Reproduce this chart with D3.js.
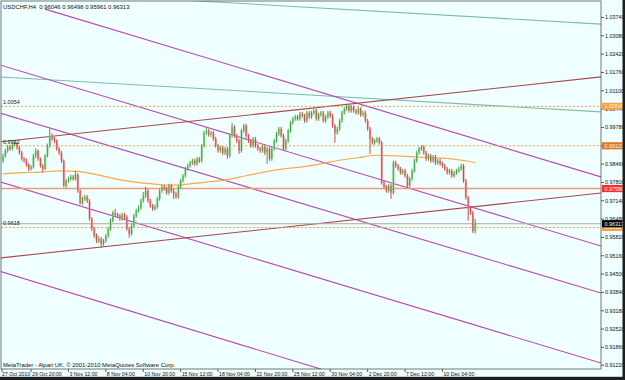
<!DOCTYPE html>
<html><head><meta charset="utf-8">
<script src="https://cdn.jsdelivr.net/npm/d3@7"></script>
<style>body{margin:0;background:#F0FFFF}svg{display:block}</style>
</head><body>
<svg id="c" width="625" height="380"></svg>
<script>
// ---------- DATA ----------
const symbolTitle = "USDCHF,H4  0.96046 0.96498 0.95961 0.96313";
const copyright = "MetaTrader - Alpari UK, \u00A9 2001-2010 MetaQuotes Software Corp.";

const closes = [0.9876,0.9894,0.9908,0.9901,0.9916,0.9923,0.9905,0.9887,0.9865,0.9858,
0.9844,0.9829,0.9836,0.9876,0.9894,0.9865,0.9840,0.9829,0.9876,0.9912,
0.9948,0.9937,0.9930,0.9901,0.9887,0.9858,0.9768,0.9786,0.9793,0.9800,
0.9793,0.9808,0.9750,0.9707,0.9721,0.9728,0.9714,0.9649,0.9613,0.9588,
0.9570,0.9577,0.9559,0.9570,0.9588,0.9613,0.9642,0.9671,0.9664,0.9660,
0.9649,0.9664,0.9656,0.9613,0.9595,0.9624,0.9660,0.9678,0.9689,0.9714,
0.9732,0.9750,0.9714,0.9696,0.9685,0.9692,0.9721,0.9750,0.9764,0.9757,
0.9743,0.9768,0.9750,0.9739,0.9728,0.9764,0.9786,0.9804,0.9829,0.9840,
0.9851,0.9858,0.9847,0.9865,0.9858,0.9912,0.9959,0.9966,0.9952,0.9959,
0.9937,0.9912,0.9894,0.9905,0.9887,0.9901,0.9876,0.9948,0.9980,0.9948,
0.9930,0.9894,0.9966,0.9984,0.9948,0.9930,0.9912,0.9937,0.9912,0.9901,
0.9894,0.9908,0.9887,0.9901,0.9865,0.9901,0.9930,0.9955,0.9973,0.9948,
0.9901,0.9930,0.9966,0.9995,1.0009,1.0016,1.0009,1.0027,1.0020,1.0002,
1.0031,1.0016,1.0031,1.0038,1.0009,1.0024,1.0031,1.0002,1.0016,1.0031,
1.0020,0.9984,0.9959,0.9973,1.0002,1.0031,1.0045,1.0056,1.0038,1.0052,
1.0038,1.0031,1.0045,1.0024,1.0031,1.0002,0.9973,0.9937,0.9923,0.9930,
0.9937,0.9923,0.9779,0.9764,0.9750,0.9768,0.9743,0.9851,0.9840,0.9829,
0.9815,0.9822,0.9804,0.9768,0.9793,0.9822,0.9858,0.9887,0.9901,0.9908,
0.9887,0.9865,0.9876,0.9858,0.9872,0.9851,0.9858,0.9847,0.9840,0.9829,
0.9815,0.9822,0.9804,0.9815,0.9822,0.9829,0.9840,0.9786,0.9725,0.9685,
0.9671,0.9605,0.96313];

const opens = [0.9858,0.9876,0.9894,0.9908,0.9901,0.9916,0.9923,0.9905,0.9887,0.9865,
0.9858,0.9844,0.9829,0.9836,0.9876,0.9894,0.9865,0.9840,0.9829,0.9876,
0.9912,0.9948,0.9937,0.9930,0.9901,0.9887,0.9858,0.9768,0.9786,0.9793,
0.9800,0.9793,0.9808,0.9750,0.9707,0.9721,0.9728,0.9714,0.9649,0.9613,
0.9588,0.9570,0.9577,0.9559,0.9570,0.9588,0.9613,0.9642,0.9671,0.9664,
0.9660,0.9649,0.9664,0.9656,0.9613,0.9595,0.9624,0.9660,0.9678,0.9689,
0.9714,0.9732,0.9750,0.9714,0.9696,0.9685,0.9692,0.9721,0.9750,0.9764,
0.9757,0.9743,0.9768,0.9750,0.9739,0.9728,0.9764,0.9786,0.9804,0.9829,
0.9840,0.9851,0.9858,0.9847,0.9865,0.9858,0.9912,0.9959,0.9966,0.9952,
0.9959,0.9937,0.9912,0.9894,0.9905,0.9887,0.9901,0.9876,0.9948,0.9980,
0.9948,0.9930,0.9894,0.9966,0.9984,0.9948,0.9930,0.9912,0.9937,0.9912,
0.9901,0.9894,0.9908,0.9887,0.9901,0.9865,0.9901,0.9930,0.9955,0.9973,
0.9948,0.9901,0.9930,0.9966,0.9995,1.0009,1.0016,1.0009,1.0027,1.0020,
1.0002,1.0031,1.0016,1.0031,1.0038,1.0009,1.0024,1.0031,1.0002,1.0016,
1.0031,1.0020,0.9984,0.9959,0.9973,1.0002,1.0031,1.0045,1.0056,1.0038,
1.0052,1.0038,1.0031,1.0045,1.0024,1.0031,1.0002,0.9973,0.9937,0.9923,
0.9930,0.9937,0.9923,0.9779,0.9764,0.9750,0.9768,0.9743,0.9851,0.9840,
0.9829,0.9815,0.9822,0.9804,0.9768,0.9793,0.9822,0.9858,0.9887,0.9901,
0.9908,0.9887,0.9865,0.9876,0.9858,0.9872,0.9851,0.9858,0.9847,0.9840,
0.9829,0.9815,0.9822,0.9804,0.9815,0.9822,0.9829,0.9840,0.9786,0.9725,
0.9685,0.9671,0.96046];

const highs = [0.9884,0.9901,0.9916,0.9915,0.9926,0.9932,0.9928,0.9912,0.9893,0.9872,
0.9866,0.9850,0.9843,0.9883,0.9903,0.9899,0.9870,0.9846,0.9882,0.9920,
0.9973,0.9956,0.9944,0.9935,0.9908,0.9893,0.9863,0.9793,0.9801,0.9808,
0.9807,0.9822,0.9813,0.9755,0.9729,0.9736,0.9735,0.9720,0.9655,0.9620,
0.9596,0.9586,0.9584,0.9577,0.9595,0.9620,0.9650,0.9678,0.9685,0.9671,
0.9667,0.9671,0.9671,0.9662,0.9620,0.9631,0.9667,0.9685,0.9697,0.9721,
0.9746,0.9764,0.9757,0.9721,0.9703,0.9700,0.9728,0.9757,0.9772,0.9771,
0.9764,0.9775,0.9775,0.9757,0.9746,0.9771,0.9793,0.9811,0.9836,0.9848,
0.9858,0.9866,0.9865,0.9872,0.9872,0.9919,0.9966,0.9977,0.9973,0.9966,
0.9966,0.9944,0.9919,0.9912,0.9912,0.9908,0.9908,0.9955,0.9995,0.9987,
0.9955,0.9937,0.9973,0.9991,0.9991,0.9955,0.9937,0.9944,0.9944,0.9919,
0.9908,0.9915,0.9915,0.9908,0.9908,0.9908,0.9937,0.9962,0.9980,0.9980,
0.9955,0.9937,0.9973,1.0002,1.0016,1.0024,1.0023,1.0034,1.0034,1.0027,
1.0038,1.0038,1.0038,1.0045,1.0045,1.0031,1.0038,1.0038,1.0023,1.0038,
1.0038,1.0027,0.9991,0.9980,1.0009,1.0038,1.0052,1.0063,1.0060,1.0059,
1.0057,1.0045,1.0052,1.0050,1.0038,1.0038,1.0009,0.9980,0.9944,0.9937,
0.9944,0.9944,0.9930,0.9786,0.9771,0.9775,0.9775,0.9858,0.9858,0.9847,
0.9836,0.9829,0.9829,0.9811,0.9800,0.9829,0.9865,0.9894,0.9908,0.9914,
0.9914,0.9894,0.9883,0.9883,0.9879,0.9879,0.9865,0.9865,0.9854,0.9847,
0.9836,0.9829,0.9829,0.9822,0.9829,0.9836,0.9847,0.9847,0.9793,0.9732,
0.9692,0.9678,0.96498];

const lows = [0.9850,0.9869,0.9887,0.9894,0.9895,0.9909,0.9898,0.9880,0.9858,0.9850,
0.9836,0.9820,0.9822,0.9830,0.9868,0.9858,0.9833,0.9815,0.9824,0.9870,
0.9905,0.9929,0.9921,0.9894,0.9879,0.9850,0.9762,0.9760,0.9779,0.9786,
0.9786,0.9787,0.9743,0.9700,0.9700,0.9714,0.9706,0.9642,0.9605,0.9580,
0.9562,0.9562,0.9545,0.9552,0.9563,0.9581,0.9606,0.9636,0.9657,0.9652,
0.9642,0.9642,0.9649,0.9606,0.9581,0.9588,0.9617,0.9653,0.9671,0.9682,
0.9707,0.9725,0.9707,0.9689,0.9678,0.9678,0.9685,0.9714,0.9743,0.9750,
0.9736,0.9736,0.9743,0.9721,0.9721,0.9721,0.9757,0.9779,0.9797,0.9822,
0.9833,0.9843,0.9840,0.9840,0.9850,0.9851,0.9905,0.9952,0.9945,0.9944,
0.9930,0.9905,0.9887,0.9887,0.9879,0.9879,0.9865,0.9869,0.9941,0.9941,
0.9922,0.9883,0.9887,0.9959,0.9941,0.9922,0.9905,0.9905,0.9905,0.9894,
0.9887,0.9887,0.9879,0.9847,0.9858,0.9858,0.9894,0.9923,0.9948,0.9941,
0.9894,0.9894,0.9923,0.9959,0.9988,1.0002,1.0002,1.0002,1.0013,0.9995,
0.9995,1.0009,1.0009,1.0024,1.0002,1.0002,1.0017,0.9995,0.9995,1.0009,
1.0013,0.9977,0.9923,0.9952,0.9966,0.9995,1.0024,1.0038,1.0031,1.0031,
1.0031,1.0024,1.0024,1.0017,1.0017,0.9995,0.9966,0.9883,0.9916,0.9916,
0.9923,0.9916,0.9772,0.9757,0.9743,0.9743,0.9721,0.9736,0.9833,0.9822,
0.9808,0.9808,0.9797,0.9760,0.9761,0.9786,0.9815,0.9851,0.9880,0.9894,
0.9880,0.9858,0.9858,0.9851,0.9851,0.9843,0.9843,0.9840,0.9833,0.9822,
0.9808,0.9808,0.9797,0.9797,0.9808,0.9815,0.9822,0.9779,0.9718,0.9642,
0.9664,0.9598,0.95961];

// moving average (bar index, value)
const maBars   = [0,8,16,24,32,40,48,56,64,72,80,88,96,104,112,120,128,136,144,152,160,168,176,184,192,198,202];
const maValues = [0.9811,0.9815,0.9817,0.9822,0.9820,0.9808,0.9793,0.9782,0.9775,0.9770,0.9775,0.9782,0.9790,0.9804,0.9818,0.9829,0.9836,0.9847,0.9860,0.9869,0.9878,0.9876,0.9872,0.9869,0.9865,0.9858,0.9851];

// time axis
const timeTickBars   = [0,12,28,44,60,76,92,108,124,140,156,172,188];
const timeTickLabels = ["27 Oct 2010","29 Oct 20:00","3 Nov 12:00","8 Nov 04:00","10 Nov 20:00","15 Nov 12:00","18 Nov 04:00","22 Nov 20:00","25 Nov 12:00","30 Nov 04:00","2 Dec 20:00","7 Dec 12:00","10 Dec 04:00"];

// price axis
const priceTicks = [1.0374,1.0308,1.0242,1.0176,1.0110,1.0044,0.9978,0.9912,0.9846,0.9780,0.9714,0.9648,0.9582,0.9516,0.9450,0.9384,0.9318,0.9252,0.9186,0.9122];

// horizontal level objects
const dottedLevels = [1.0054, 0.9912, 0.9618];
const dottedLevelLabels = ["1.0054","0.9912","0.9618"];
const solidLevel = 0.9758;
const bidPrice = 0.96313;

// trend lines [barIndex1, price1, barIndex2, price2]
const tealLines = [[-1.28,1.0160,255.8,1.0034],[84.3,1.0433,255.8,1.0350]];
const magentaLines = [[18,1.0404,255.8,0.9800],[-1.28,1.0203,255.8,0.9551],[-1.28,1.0030,255.8,0.9382],[-1.28,0.9782,255.8,0.9130],[-1.28,0.9460,135.6,0.9109]];
const magentaRayStart = [true,false,false,false,false];
const brownLines = [[-1.28,0.9926,255.8,1.0160],[-1.28,0.9508,255.8,0.9742]];

// ---------- DRAW ----------
const svg = d3.select("#c");
const W = 625, H = 380;
const pL = 1, pR = 601, pT = 1, pB = 369;
const FONT = "'Liberation Sans', Arial, sans-serif";

const x = d3.scaleLinear().domain([0, 202]).range([3, 3 + 202 * 2.3375]);
const y = d3.scaleLinear().domain([0.9122, 1.0434]).range([365.2, 0.8]);

svg.append("rect").attr("width", W).attr("height", H).attr("fill", "#F0FFFF");

svg.append("defs").append("clipPath").attr("id", "plot")
  .append("rect").attr("x", pL).attr("y", pT).attr("width", pR - pL).attr("height", pB - pT);

const g = svg.append("g").attr("clip-path", "url(#plot)");

// trend lines
function drawTL(arr, color, w, rays) {
  arr.forEach((d, k) => {
    const [i1, p1, i2, p2] = d;
    const s = (p2 - p1) / (i2 - i1);
    const a = (rays && rays[k]) ? i1 : x.invert(0);
    const b = x.invert(pR);
    g.append("line")
      .attr("x1", x(a)).attr("y1", y(p1 + s * (a - i1)))
      .attr("x2", x(b)).attr("y2", y(p1 + s * (b - i1)))
      .attr("stroke", color).attr("stroke-width", w);
  });
}
drawTL(tealLines, "#7dbcae", 1.1);
drawTL(magentaLines, "#b64bb6", 1.1, magentaRayStart);
drawTL(brownLines, "#a8484e", 1.1);

// levels
dottedLevels.forEach(v => {
  g.append("line").attr("x1", pL).attr("x2", pR).attr("y1", y(v)).attr("y2", y(v))
    .attr("stroke", "#f2a040").attr("stroke-width", 1).attr("stroke-dasharray", "2,2");
});
g.append("line").attr("x1", pL).attr("x2", pR).attr("y1", y(solidLevel)).attr("y2", y(solidLevel))
  .attr("stroke", "#f59878").attr("stroke-width", 1.6);
g.append("line").attr("x1", pL).attr("x2", pR).attr("y1", y(bidPrice)).attr("y2", y(bidPrice))
  .attr("stroke", "#a8acac").attr("stroke-width", 1);

// moving average
const maPts = maBars.map((b, k) => [x(b), y(maValues[k])]);
g.append("path").attr("d", d3.line().curve(d3.curveMonotoneX)(maPts))
  .attr("fill", "none").attr("stroke", "#ffa84a").attr("stroke-width", 1.2);

// candles
const bars = closes.map((c, i) => ({i, o: opens[i], h: highs[i], l: lows[i], c}));
const cg = g.append("g");
bars.forEach(d => {
  const up = d.c >= d.o;
  const dark = up ? "#3fa63f" : "#d24a4a";
  const light = up ? "#9fd89f" : "#eaa4a0";
  const cx = x(d.i);
  cg.append("rect").attr("x", cx - 1).attr("width", 2.2)
    .attr("y", y(Math.max(d.o, d.c))).attr("height", Math.max(1, y(Math.min(d.o, d.c)) - y(Math.max(d.o, d.c))))
    .attr("fill", light);
  cg.append("line").attr("x1", cx).attr("x2", cx).attr("y1", y(d.h)).attr("y2", y(d.l))
    .attr("stroke", dark).attr("stroke-width", 1);
});

// level labels (left)
dottedLevels.forEach((v, k) => {
  svg.append("text").attr("x", 3).attr("y", y(v) - 2).text(dottedLevelLabels[k])
    .attr("font-family", FONT).attr("font-size", 5.5).attr("fill", "#222");
});

// frame
svg.append("rect").attr("x", pL).attr("y", pT).attr("width", pR - pL).attr("height", pB - pT)
  .attr("fill", "none").attr("stroke", "#555").attr("stroke-width", 0.8);

// price axis
priceTicks.forEach(v => {
  svg.append("line").attr("x1", pR).attr("x2", pR + 3).attr("y1", y(v)).attr("y2", y(v)).attr("stroke", "#333").attr("stroke-width", 0.8);
  svg.append("text").attr("x", 605).attr("y", y(v) + 2).text(v.toFixed(5))
    .attr("font-family", FONT).attr("font-size", 5.4).attr("fill", "#111");
});
function box(v, fill, txt, label) {
  svg.append("rect").attr("x", 602).attr("y", y(v) - 3.6).attr("width", 20.5).attr("height", 7.2).attr("fill", fill);
  svg.append("text").attr("x", 604.5).attr("y", y(v) + 2).text(label)
    .attr("font-family", FONT).attr("font-size", 5.4).attr("fill", txt);
}
box(dottedLevels[0], "#f2a24a", "#fff3dc", dottedLevels[0].toFixed(5));
box(dottedLevels[1], "#dc7a26", "#fff3dc", dottedLevels[1].toFixed(5));
box(solidLevel, "#ff2b2b", "#ffffff", solidLevel.toFixed(5));
box(dottedLevels[2], "#f2a24a", "#fff3dc", dottedLevels[2].toFixed(5));
box(bidPrice, "#000000", "#ffffff", bidPrice.toFixed(5));

// time axis
timeTickBars.forEach((b, k) => {
  const tx = k === 0 ? 2 : x(b);
  svg.append("line").attr("x1", tx).attr("x2", tx).attr("y1", pB).attr("y2", pB + 3).attr("stroke", "#333").attr("stroke-width", 0.8);
  svg.append("text").attr("x", tx + (k === 0 ? 0 : 1)).attr("y", 375.5).text(timeTickLabels[k])
    .attr("font-family", FONT).attr("font-size", 5.2).attr("fill", "#111");
});

// texts
svg.append("text").attr("x", 3).attr("y", 8.5).text(symbolTitle).attr("xml:space", "preserve")
  .attr("font-family", FONT).attr("font-size", 5.9).attr("fill", "#111").style("white-space", "pre");
svg.append("text").attr("x", 3).attr("y", 367).text(copyright)
  .attr("font-family", FONT).attr("font-size", 5.9).attr("fill", "#111");

// window edges
svg.append("rect").attr("x", 622.5).attr("y", 0).attr("width", 2.5).attr("height", H).attr("fill", "#1e1e1e");
svg.append("rect").attr("x", 0).attr("y", 376.8).attr("width", W).attr("height", 3.2).attr("fill", "#1e1e1e");
</script>
</body></html>
